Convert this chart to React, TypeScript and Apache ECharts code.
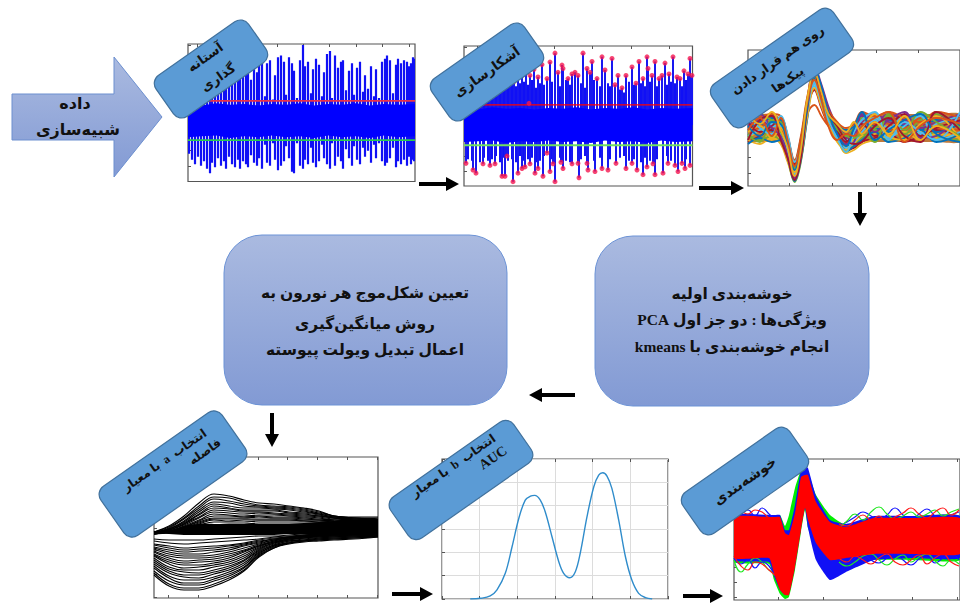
import React, { useEffect, useRef } from "react";
import * as echarts from "echarts";

// Panel 1: threshold signal
const spikeX1 = [1,4,7,10,13,16,19,22,24,27,30,33,36,38,41,44,47,50,52,55,58,60,63,66,69,71,74,77,79,82,85,87,90,93,96,98,101,104,106,109,112,115,117,120,123,125,128,131,134,136,139,142,144,147,150,153,155,158,161,164,166,169,172,175,177,180,183,186,188,191,194,197,199,202,205,208,210,213,216,219,221,223,225,226];
const spikeHi1 = [2.8,3.1,2.6,3.4,3.0,3.6,2.7,3.9,3.2,3.5,2.9,3.8,3.3,4.0,3.0,3.6,2.5,3.7,3.1,3.9,3.4,4.1,2.7,3.6,3.2,3.9,4.0,1.6,3.8,4.0,1.4,3.0,4.2,4.3,3.9,1.7,4.2,3.8,3.3,1.5,4.0,5.0,3.6,3.9,1.8,3.4,4.1,3.7,1.6,3.2,4.4,4.6,1.5,4.3,3.5,3.9,4.0,2.0,3.3,3.8,1.7,3.5,3.9,1.9,3.0,2.1,3.6,1.6,3.4,1.5,3.9,4.1,4.3,4.0,1.8,3.7,4.1,3.8,4.0,3.9,3.6,3.8,4.2,4.1];
const spikeLo1 = [-2.2,-2.6,-2.9,-2.4,-3.0,-2.7,-3.2,-3.5,-2.8,-3.1,-2.5,-3.0,-2.7,-3.2,-2.4,-2.9,-3.1,-2.6,-3.2,-2.7,-2.9,-3.1,-2.3,-2.8,-3.0,-2.5,-3.2,-1.6,-2.8,-3.0,-1.5,-2.6,-3.3,-3.0,-2.7,-1.7,-2.5,-3.4,-3.5,-1.5,-3.0,-3.2,-2.6,-2.9,-1.8,-2.8,-3.1,-2.7,-1.6,-2.5,-2.9,-3.2,-1.5,-3.0,-2.4,-2.7,-3.2,-1.9,-2.5,-3.0,-1.7,-2.6,-2.9,-1.8,-2.4,-2.0,-2.8,-1.6,-2.5,-1.5,-2.7,-3.0,-2.8,-2.5,-1.8,-3.1,-2.7,-2.9,-2.6,-3.0,-2.4,-2.9,-2.6,-2.7];
const noiseX = [0,14,28,42,56,70,84,98,112,126,140,154,168,182,196,210,227];
const noiseHi = [1.1,1.0,1.15,1.05,1.1,1.0,1.1,1.05,1.15,1.0,1.1,1.05,1.15,1.0,1.1,1.05,1.1];
const noiseLo = [-1.1,-1.05,-1.0,-1.15,-1.05,-1.1,-1.0,-1.1,-1.05,-1.15,-1.0,-1.1,-1.05,-1.15,-1.0,-1.1,-1.05];
const thresholdHigh = 1.3;
const thresholdLow = -1.3;

// Panel 2: detected peaks
const highX2 = [2,6,10,14,18,22,26,30,34,38,42,46,50,54,58,62,65,66,70,74,78,83,86,91,94,98,99,104,108,111,114,119,123,126,128,133,138,141,148,151,154,158,162,168,172,175,179,183,184,188,191,195,198,201,205,209,213,216,220,224,226,228];
const highV2 = [2.9,3.2,2.8,3.4,3.0,3.1,3.5,2.9,3.3,3.6,3.0,3.4,2.8,3.7,3.2,3.5,1.4,3.2,3.6,3.1,3.9,3.0,4.06,4.64,3.4,3.87,3.65,3.0,3.3,3.4,3.2,4.64,3.65,3.4,4.1,3.0,4.4,3.55,4.3,2.6,3.2,2.4,3.2,3.75,2.7,4.1,3.0,4.4,3.65,3.2,4.1,3.0,3.2,4.0,3.3,4.4,3.1,3.0,3.5,3.3,4.3,3.2];
const lowX2 = [2,9,12,19,26,31,38,41,43,49,54,58,61,66,71,74,79,83,86,89,91,97,99,108,114,115,123,124,131,138,144,152,162,168,173,179,183,189,191,199,204,211,214,218,221,226];
const lowV2 = [-2.47,-2.9,-3.1,-2.5,-2.6,-2.5,-3.3,-3.3,-2.0,-3.65,-3.1,-2.8,-2.7,-2.5,-3.1,-2.8,-3.3,-1.8,-3.0,-2.5,-3.65,-2.4,-2.8,-2.5,-2.47,-3.4,-2.47,-2.9,-3.0,-2.8,-2.9,-2.47,-2.8,-2.47,-2.9,-3.2,-2.7,-2.5,-3.2,-3.1,-2.47,-2.6,-3.0,-2.47,-2.8,-2.6];
const stemFillX2 = [4,8,12,16,20,24,28,32,36,40,44,48,52,56,60,64,68,72,76,80,88,96,102,106,117,121,130,136,144,146,156,160,165,170,177,181,186,193,203,207,211,218,222];
const stemFillHi2 = [2.6,2.5,2.9,2.8,2.4,2.7,2.6,3.0,2.5,2.8,2.6,2.9,2.5,2.7,2.8,2.6,2.9,2.4,2.7,2.6,2.8,2.5,2.9,2.6,2.7,2.4,2.9,2.5,2.7,2.5,2.3,2.1,2.8,2.6,2.7,2.5,2.8,2.5,2.6,2.8,2.7,2.5,2.9];
const stemFillLo2 = [-2.2,-2.3,-2.0,-2.4,-2.1,-2.3,-2.2,-2.0,-2.4,-2.1,-2.3,-2.2,-2.4,-2.0,-2.3,-2.2,-2.1,-2.4,-2.3,-2.0,-2.2,-2.1,-2.3,-2.4,-2.2,-2.0,-2.3,-2.1,-2.4,-2.2,-2.1,-2.0,-2.3,-2.2,-2.4,-2.1,-2.3,-2.2,-2.0,-2.3,-2.4,-2.1,-2.2];

// Panel 3: overlaid peaks
const waveX3 = [0,12,24,33,40,47,53,60,67,74,81,90,99,107,115,128,142,158,174,190,214];
const waves3 = [
  [58,62,55,52,36,10,30,80,112,94,72,54,40,46,60,58,54,64,56,66,60],
  [66,60,64,58,32,6,26,74,116,100,78,58,44,50,66,70,62,56,68,60,52],
  [48,54,46,50,40,16,40,84,104,88,66,50,38,42,50,52,60,48,54,48,58],
  [72,68,70,62,44,20,44,88,118,96,74,60,52,56,70,64,72,66,60,70,64],
  [52,46,50,44,26,4,22,70,110,92,68,48,34,40,48,56,46,52,60,50,46],
  [62,70,60,60,42,14,34,78,100,82,64,52,46,52,62,68,58,70,52,62,70],
  [44,50,56,48,30,8,28,76,114,98,76,56,36,38,44,48,52,44,50,56,50],
  [70,64,68,66,48,24,46,82,108,86,70,62,56,60,72,60,66,60,72,54,62],
  [56,58,52,56,38,12,32,72,81,70,60,50,42,46,56,62,56,58,64,58,56],
  [46,42,48,42,24,6,24,72,106,90,70,50,33,36,42,46,50,54,46,52,48],
  [60,66,58,54,34,10,36,86,120,102,80,60,48,52,64,72,64,62,58,64,72],
  [68,72,66,64,46,18,38,80,110,90,68,56,50,58,68,58,70,52,66,72,58],
  [50,56,62,52,34,12,30,74,102,84,64,46,38,44,54,66,48,60,70,46,54],
  [64,54,60,68,50,22,42,78,96,78,62,54,44,56,62,50,60,72,50,58,66],
  [42,48,44,46,28,5,24,68,108,94,72,52,35,40,46,54,44,48,56,44,52],
  [74,70,72,70,50,26,48,90,114,92,76,64,58,62,74,70,74,68,64,74,68],
  [54,60,48,58,44,14,28,70,98,80,62,44,36,48,58,72,50,46,62,70,46],
  [64,72,58,50,30,8,30,82,116,96,70,50,42,44,72,54,66,74,48,50,72],
  [50,44,66,54,40,18,42,86,110,88,68,58,50,48,52,44,72,56,74,64,50],
  [70,58,52,70,52,24,40,76,104,84,66,48,34,54,66,74,46,64,54,46,74],
  [46,66,70,46,28,6,26,78,112,92,74,60,46,42,44,60,68,50,44,74,56],
  [60,50,64,62,42,16,36,80,118,100,74,52,40,58,74,46,56,66,72,52,44],
  [56,68,50,68,46,20,44,84,106,86,60,46,52,50,60,68,74,44,60,68,62],
  [72,62,74,56,38,10,34,88,114,94,72,62,54,64,52,64,52,70,46,60,48],
];
const waveColors = ["#0072BD", "#D95319", "#EDB120", "#7E2F8E", "#77AC30", "#4DBEEE", "#A2142F"];
const band3Top = [72,72,72,68,50,24,46,86,114,96,76,64,56,60,72,72,72,72,72,72,72];
const band3Bot = [44,44,44,44,26,5,24,70,102,84,62,46,34,38,44,44,44,44,44,44,44];

// Panel 4: selecting a
const fanX4 = [0,15,30,45,60,75,90,105,120,135,150,165,180,200,224];
const fanLines4 = [
  [66,72,82,95,104,102,98,95,94,92,90,87,82,81,81],
  [66,71,80,92,101,100,96,93,92,91,89,86,82,80,80],
  [66,70,79,90,99,97,94,92,91,90,88,85,82,80,79],
  [66,69,77,88,96,95,92,91,90,89,87,84,81,80,78],
  [65,69,76,86,94,92,90,90,89,88,86,84,81,79,78],
  [65,69,75,84,92,90,88,88,88,86,85,83,80,79,77],
  [65,68,74,83,90,89,87,87,87,85,84,82,80,78,77],
  [65,68,74,81,88,87,86,86,85,84,83,82,80,78,76],
  [65,68,73,80,86,85,84,85,84,83,82,81,79,78,76],
  [65,67,72,78,84,83,82,83,83,82,81,80,78,77,75],
  [65,67,71,77,82,82,81,82,81,81,80,79,78,77,75],
  [64,67,71,76,80,80,80,81,80,80,79,78,77,76,75],
  [64,66,70,75,79,79,79,79,79,79,78,78,77,76,75],
  [64,66,69,74,78,77,78,78,78,78,77,77,76,75,74],
  [64,66,69,73,76,76,76,77,77,77,77,76,76,75,74],
  [64,66,68,71,73,74,74,75,75,75,75,75,75,74,74],
  [64,65,67,69,71,72,72,73,73,73,73,74,74,73,73],
  [23,12,8,8,12,18,27,41,50,54,56,57,58,59,61],
  [25,14,10,10,14,20,28,42,50,55,57,58,59,60,61],
  [27,17,13,13,17,22,30,43,51,55,57,58,59,60,62],
  [30,20,15,15,19,24,31,44,52,55,57,59,60,61,62],
  [32,22,18,18,21,26,33,45,52,56,58,59,60,61,62],
  [34,25,21,20,24,28,35,46,53,57,58,60,61,62,62],
  [36,27,23,23,26,30,37,47,53,57,59,60,61,62,63],
  [38,29,26,25,28,32,38,48,54,58,60,61,62,62,63],
  [40,31,28,28,31,34,40,49,55,58,60,61,62,63,63],
  [42,34,30,31,33,36,42,50,55,59,60,62,62,63,64],
  [43,36,33,33,35,38,44,51,56,59,61,62,63,63,64],
  [44,38,35,36,37,40,46,52,56,59,61,62,63,64,64],
  [46,40,37,38,39,42,47,52,57,60,61,62,63,64,64],
  [47,42,40,40,41,44,48,53,57,60,62,63,63,64,65],
  [49,44,42,42,43,46,50,54,58,60,62,63,64,64,65],
  [50,46,44,44,46,48,52,55,58,61,62,63,64,64,65],
  [51,48,46,47,48,50,53,56,59,61,62,63,64,65,65],
  [53,50,48,49,50,52,54,57,59,61,62,64,64,65,65],
  [54,52,50,51,52,53,55,58,60,61,63,64,64,65,65],
  [57,55,54,55,56,57,58,59,61,62,63,64,65,65,66],
  [59,58,58,58,59,60,61,62,62,63,64,64,65,65,66],
];
const core4Top = [66,67,72,74,74,74,74,74,74,74,75,76,77,78,79];
const core4Bot = [65,64,63,63,63,63,63,63,63,64,64,64,64,65,65];

// Panel 5: selecting b
const aucX = [0.75,1.02,1.28,1.46,1.68,1.86,2.04,2.21,2.35,2.46,2.61,2.74,2.92,3.1,3.23,3.39,3.54,3.67,3.85,4.03,4.16,4.27,4.38,4.51,4.69,4.87,5.04,5.22,5.4,5.58];
const aucY = [0,0.03,0.13,0.39,1.1,2.24,3.46,4.24,4.41,4.44,4.24,3.74,2.67,1.6,1.1,0.91,1.17,1.96,3.53,4.81,5.31,5.41,5.27,4.74,3.39,1.81,0.81,0.24,0.06,0];

// Panel 6: clustering
const bandX6 = [0,35,40,46,51,55,61,67,71,74,82,96,112,140,180,226];
const redTop = [83,83,83,83,67,65,87,123,125,125,98,78,73,82,82,82];
const redBot = [42,42,27,10,5,5,33,70,92,80,57,40,42,46,46,46];
const greenTop = [84,84,84,85,74,85,112,130,132,128,105,85,75,82,84,84];
const greenBot = [38,36,20,6,1,3,30,68,90,72,52,34,36,40,40,40];
const blueTop = [85,85,85,85,70,70,95,130,134,132,104,80,76,84,84,84];
const blueBot = [40,38,24,10,5,6,34,72,92,72,40,20,28,40,42,42];
const edgeXR = [105,113,121,129,137,145,153,161,169,177,185,193,201,209,217,225];
const edgeRTop = [
  { color: "#1414ff", y: [74,78,83,88,84,80,85,92,85,80,86,91,84,80,85,88] },
  { color: "#22e822", y: [72,79,86,80,88,93,86,81,84,88,83,86,90,84,88,91] },
  { color: "#ff1a1a", y: [76,74,80,85,80,84,78,83,87,92,86,82,88,92,85,90] },
  { color: "#1414ff", y: [40,36,42,46,40,37,42,47,40,35,41,46,37,42,46,40] },
  { color: "#22e822", y: [38,34,38,44,46,40,35,41,45,38,43,46,39,34,40,36] },
  { color: "#ff1a1a", y: [42,38,44,40,36,42,46,38,35,40,45,36,42,46,38,34] },
];
const edgeXL = [0,7,14,21,28,35,42];
const edgeLeft = [
  { color: "#1414ff", y: [82,86,90,84,92,86,80] },
  { color: "#ff1a1a", y: [84,88,86,90,88,82,78] },
  { color: "#22e822", y: [40,28,36,42,38,30,26] },
  { color: "#1414ff", y: [42,36,40,32,38,34,22] },
  { color: "#ff1a1a", y: [44,34,30,38,36,30,24] },
];

// Texts
const fontFamily = '"Liberation Serif", "DejaVu Sans", sans-serif';
const arrowLines = ["داده", "شبیه‌سازی"];
const tagLabels = [
  { c: [211, 69], w: 113, h: 50, lines: [["آستانه", 2, -13], ["گذاری", 1, 11]], size: 13 },
  { c: [487, 72], w: 113, h: 50, lines: [["آشکارسازی", 0, 0]], size: 13.5 },
  { c: [782, 68], w: 148, h: 52, lines: [["روی هم قرار دادن", 1, -9], ["پیک‌ها", -2, 13]], size: 12.5 },
  { c: [173, 474], w: 148, h: 60, lines: [["انتخاب  a  با معیار", 1, -16], ["فاصله", 39, 0]], size: 12 },
  { c: [461, 480], w: 150, h: 50, lines: [["انتخاب  b  با معیار", 2, -16], ["AUC", 39, 0, 14]], size: 12 },
  { c: [745, 481], w: 130, h: 50, lines: [["خوشه‌بندی", 0, 0]], size: 14 },
];
const rightBox = ["خوشه‌بندی اولیه", "ویژگی‌ها : دو جز اول PCA", "انجام خوشه‌بندی با kmeans"];
const leftBox = ["تعیین شکل‌موج هر نورون به", "روش میانگین‌گیری", "اعمال تبدیل ویولت پیوسته"];

const ticksX1 = [9,36,62,89,115,141,168,194,221];
const ticksY1 = [-4,-3,-2,-1,0,1,2,3,4,5];
const ticksX2 = [13,51,90,128,167,205];
const ticksX3 = [42,85,129,172];
const ticksY3 = [13,29,44,60,75,91,106,122];
const ticksX4 = [14,44,74,104,133,163,193,223];
const ticksY4 = [1,24,48,70,94,117];
const ticksX5 = [0,1,2,3,4,5,6];
const ticksX6 = [44,89,133,178,223];
const ticksY6 = [3,18,33,48,63,78,93,108,123,138];

const grad = () => new echarts.graphic.LinearGradient(0, 0, 0, 1, [
  { offset: 0, color: "#aabae0" },
  { offset: 1, color: "#829ad4" },
]);

function panel(o: any, left: number, top: number, width: number, height: number, xr: number[], yr: number[], xt: number[], yt: number[], grid = false) {
  const idx = o.grid.length;
  o.grid.push({ left, top, width, height, show: true, borderColor: "#555", borderWidth: 1.2, backgroundColor: "#fff" });
  const tick = (vals: number[]) => ({ show: true, inside: true, length: 3, customValues: vals, lineStyle: { color: "#555", width: 1 } });
  const split = { show: grid, lineStyle: { color: "#dcdcdc", width: 1 } };
  o.xAxis.push({ type: "value", gridIndex: idx, min: xr[0], max: xr[1], position: "bottom", axisLine: { show: false }, axisTick: tick(xt), axisLabel: { show: false }, splitLine: split, ...(grid ? { interval: 1 } : {}) });
  o.xAxis.push({ type: "value", gridIndex: idx, min: xr[0], max: xr[1], position: "top", axisLine: { show: false }, axisTick: tick(xt), axisLabel: { show: false }, splitLine: { show: false } });
  o.yAxis.push({ type: "value", gridIndex: idx, min: yr[0], max: yr[1], axisLine: { show: false }, axisTick: tick(yt), axisLabel: { show: false }, splitLine: split, ...(grid ? { interval: 1 } : {}) });
  return { xAxisIndex: idx * 2, yAxisIndex: idx };
}

function stems(ax: any, xs: number[], lo: number[], hi: number[], color: string, width: number, opacity = 1) {
  return {
    type: "custom", ...ax, clip: true, silent: true, z: 3,
    encode: { x: 0, y: [1, 2] },
    data: xs.map((x, i) => [x, lo[i], hi[i]]),
    renderItem: (_: any, api: any) => {
      const a = api.coord([api.value(0), api.value(1)]);
      const b = api.coord([api.value(0), api.value(2)]);
      return { type: "line", shape: { x1: a[0], y1: a[1], x2: b[0], y2: b[1] }, style: { stroke: color, lineWidth: width, opacity } };
    },
  };
}

function band(ax: any, xs: number[], top: number[], bot: number[], color: string, z = 3, smooth = 0, opacity = 1) {
  return {
    type: "custom", ...ax, clip: true, silent: true, z,
    encode: { x: 0, y: 1 },
    data: [[xs[0], top[0]]],
    renderItem: (_: any, api: any) => {
      const up = xs.map((x, i) => api.coord([x, top[i]]));
      const dn = xs.map((x, i) => api.coord([x, bot[i]])).reverse();
      return { type: "polygon", shape: { points: up.concat(dn), smooth }, style: { fill: color, opacity } };
    },
  };
}

function curve(ax: any, xs: number[], ys: number[], color: string, width: number, z = 4, smooth: number | boolean = 0.4) {
  return {
    type: "line", ...ax, silent: true, showSymbol: false, symbol: "none", z, smooth,
    lineStyle: { color, width }, data: xs.map((x, i) => [x, ys[i]]),
  };
}

function ptext(text: string, x: number, y: number, size: number) {
  return {
    type: "text", x, y, z: 110, silent: true,
    style: { text, fill: "#111", font: `bold ${size}px ${fontFamily}`, align: "center", verticalAlign: "middle", textAlign: "center", textVerticalAlign: "middle" },
  };
}

function tag(t: any) {
  return {
    type: "group", x: t.c[0], y: t.c[1], rotation: (35 * Math.PI) / 180, z: 100,
    children: [
      { type: "rect", z: 100, silent: true, shape: { x: -t.w / 2, y: -t.h / 2, width: t.w, height: t.h, r: 10 }, style: { fill: "#5b9bd5", stroke: "#41719c", lineWidth: 1.2 } },
      ...t.lines.map((l: any) => ptext(l[0], l[1], l[2], l[3] || t.size)),
    ],
  };
}

function arrowH(x1: number, x2: number, y: number) {
  const d = x2 > x1 ? 1 : -1;
  const neck = x2 - d * 13;
  return {
    type: "polygon", z: 100, silent: true,
    shape: { points: [[x1, y - 2], [neck, y - 2], [neck, y - 7], [x2, y], [neck, y + 7], [neck, y + 2], [x1, y + 2]] },
    style: { fill: "#000" },
  };
}
function arrowV(x: number, y1: number, y2: number) {
  const neck = y2 - 13;
  return {
    type: "polygon", z: 100, silent: true,
    shape: { points: [[x - 2, y1], [x - 2, neck], [x - 7, neck], [x, y2], [x + 7, neck], [x + 2, neck], [x + 2, y1]] },
    style: { fill: "#000" },
  };
}

function buildOption() {
  const o: any = { animation: false, backgroundColor: "#fff", grid: [], xAxis: [], yAxis: [], series: [] };

  const a1 = panel(o, 188, 44, 227, 137.5, [0, 227], [-4.04, 5.07], ticksX1, ticksY1);
  o.series.push(stems(a1, spikeX1, spikeLo1, spikeHi1, "#1010f5", 2.2));
  o.series.push(band(a1, noiseX, noiseHi, noiseLo, "#0000ff"));
  o.series.push(curve(a1, [0, 227], [thresholdHigh, thresholdHigh], "#e8304a", 1.6, 5, false));
  o.series.push(curve(a1, [0, 227], [thresholdLow, thresholdLow], "#28c850", 1.6, 5, false));

  const a2 = panel(o, 464, 46, 228.5, 140, [0, 228.5], [-3.93, 5.1], ticksX2, ticksY1);
  const zeros = (n: number) => new Array(n).fill(0);
  o.series.push(stems(a2, stemFillX2, stemFillLo2, stemFillHi2, "#1010f5", 2));
  o.series.push(stems(a2, highX2, zeros(highX2.length), highV2, "#1818f0", 2));
  o.series.push(stems(a2, lowX2, zeros(lowX2.length), lowV2, "#1818f0", 2));
  o.series.push(band(a2, noiseX.map((x) => x * 1.007), noiseHi, noiseLo, "#0000ff"));
  o.series.push(curve(a2, [0, 228.5], [thresholdHigh, thresholdHigh], "#ff0000", 1.3, 5, false));
  o.series.push(curve(a2, [0, 228.5], [thresholdLow, thresholdLow], "#70e060", 2, 5, false));
  o.series.push({ type: "scatter", ...a2, silent: true, symbolSize: 5, z: 6, itemStyle: { color: "#f5164f" }, data: highX2.map((x, i) => [x, highV2[i]]) });
  o.series.push({ type: "scatter", ...a2, silent: true, symbolSize: 5, z: 6, itemStyle: { color: "#f5164f" }, data: lowX2.map((x, i) => [x, lowV2[i]]) });

  const a3 = panel(o, 748, 50, 214, 136, [0, 214], [0, 136], ticksX3, ticksY3);
  o.series.push(band(a3, waveX3, band3Top, band3Bot, "#c07a3c", 3, 0.2));
  waves3.forEach((w, i) => o.series.push(curve(a3, waveX3, w, waveColors[i % waveColors.length], 1.8)));

  const a4 = panel(o, 154, 457, 224, 141, [0, 224], [0, 141], ticksX4, ticksY4);
  fanLines4.forEach((w) => o.series.push(curve(a4, fanX4, w, "#000", 1.1)));
  o.series.push(band(a4, fanX4, core4Top, core4Bot, "#000", 5, 0.3));

  const a5 = panel(o, 442, 459, 226, 140, [0, 6], [0, 6], ticksX5, ticksX5, true);
  o.series.push(curve(a5, aucX, aucY, "#2f8ccb", 1.4, 4, 0.35));

  const a6 = panel(o, 734, 459, 226, 141, [0, 226], [0, 141], ticksX6, ticksY6);
  o.series.push(band(a6, bandX6, greenTop, greenBot, "#00ee00", 3, 0.15));
  o.series.push(band(a6, bandX6, blueTop, blueBot, "#1010f5", 4, 0.15));
  edgeRTop.forEach((e) => o.series.push(curve(a6, edgeXR, e.y, e.color, 1.2, 5, 0.5)));
  edgeLeft.forEach((e) => o.series.push(curve(a6, edgeXL, e.y, e.color, 1.2, 5, 0.5)));
  o.series.push(band(a6, bandX6, redTop, redBot, "#ff0000", 6, 0.15));

  const elements: any[] = [];
  elements.push({
    type: "polygon", z: 90, silent: true,
    shape: { points: [[12, 94], [114, 94], [114, 57], [162, 117], [114, 177], [114, 140], [12, 140]] },
    style: { fill: grad(), stroke: "#6c8fcf", lineWidth: 1 },
  });
  elements.push(ptext(arrowLines[0], 75, 103, 16));
  elements.push(ptext(arrowLines[1], 78, 129, 16));
  elements.push({ type: "rect", z: 90, silent: true, shape: { x: 595, y: 236, width: 274, height: 170, r: 38 }, style: { fill: grad(), stroke: "#6c93d6", lineWidth: 1 } });
  elements.push({ type: "rect", z: 90, silent: true, shape: { x: 224, y: 235, width: 283, height: 170, r: 38 }, style: { fill: grad(), stroke: "#6c93d6", lineWidth: 1 } });
  rightBox.forEach((t, i) => elements.push(ptext(t, 732, [293, 319, 346][i], 15.5)));
  leftBox.forEach((t, i) => elements.push(ptext(t, 365, [292, 323, 349][i], 15.5)));
  elements.push(arrowH(419, 459, 184));
  elements.push(arrowH(699, 744, 188));
  elements.push(arrowV(860, 192, 226));
  elements.push(arrowH(575, 529, 395));
  elements.push(arrowV(272, 413, 447));
  elements.push(arrowH(392, 433, 594));
  elements.push(arrowH(683, 723, 596));
  tagLabels.forEach((t) => elements.push(tag(t)));
  o.graphic = { elements };
  return o;
}

export default function App() {
  const ref = useRef<HTMLDivElement>(null);
  useEffect(() => {
    const chart = echarts.init(ref.current!, undefined, { renderer: "svg" });
    chart.setOption(buildOption());
    return () => chart.dispose();
  }, []);
  return <div ref={ref} style={{ position: "fixed", left: 0, top: 0, width: 960, height: 603, direction: "rtl" }} />;
}
